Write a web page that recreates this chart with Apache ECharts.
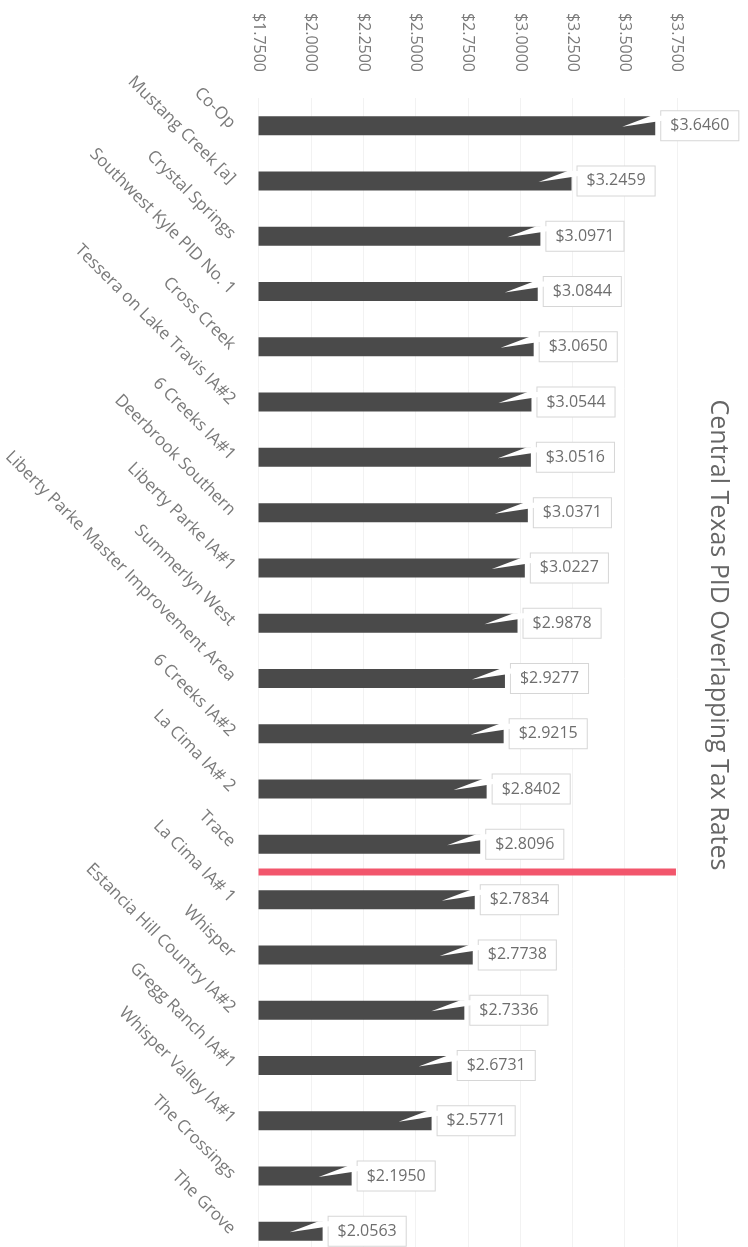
<!DOCTYPE html>
<html>
<head>
<meta charset="utf-8">
<script src="https://cdn.jsdelivr.net/npm/echarts@6/dist/echarts.min.js"></script>
<style>
html,body{margin:0;padding:0;background:#fff;width:748px;height:1247px;overflow:hidden;}
#chart{width:748px;height:1259px;}
</style>
</head>
<body>
<div id="chart"></div>
<script>
const categories = [
  "Co-Op", "Mustang Creek [a]", "Crystal Springs", "Southwest Kyle PID No. 1",
  "Cross Creek", "Tessera on Lake Travis IA#2", "6 Creeks IA#1", "Deerbrook Southern",
  "Liberty Parke IA#1", "Summerlyn West", "Liberty Parke Master Improvement Area",
  "6 Creeks IA#2", "La Cima IA# 2", "Trace", "La Cima IA# 1", "Whisper",
  "Estancia Hill Country IA#2", "Gregg Ranch IA#1", "Whisper Valley IA#1",
  "The Crossings", "The Grove"
];
const taxRates = [
  3.6460, 3.2459, 3.0971, 3.0844, 3.0650, 3.0544, 3.0516, 3.0371, 3.0227, 2.9878,
  2.9277, 2.9215, 2.8402, 2.8096, 2.7834, 2.7738, 2.7336, 2.6731, 2.5771, 2.1950, 2.0563
];
const axisMin = 1.75;
const axisMax = 3.75;
const axisStep = 0.25;
// reference (red) line drawn between "Trace" and "La Cima IA# 1"
const refLineRow = 14;
const refLineX = [1.75, 3.745];
const titleText = "Central Texas PID Overlapping Tax Rates";

const chart = echarts.init(document.getElementById('chart'), null, {renderer: 'canvas'});
const FONT = '"Open Sans", "Noto Sans", sans-serif';

const option = {
  animation: false,
  backgroundColor: '#ffffff',
  grid: {left: 256, top: 98, right: 71, bottom: 0, containLabel: false},
  xAxis: {
    type: 'value', position: 'top', min: axisMin, max: axisMax, interval: axisStep,
    axisLine: {show: false}, axisTick: {show: false},
    splitLine: {show: true, lineStyle: {color: '#f2f2f2', width: 1}},
    axisLabel: {
      rotate: -90, margin: 26, color: '#7a7a7a', fontSize: 16, fontFamily: FONT,
      formatter: v => '$' + v.toFixed(4)
    }
  },
  yAxis: [{
    type: 'category', data: categories, inverse: true,
    axisLine: {show: false}, axisTick: {show: false},
    axisLabel: {rotate: -45, margin: 26, color: '#7a7a7a', fontSize: 17, fontFamily: FONT, interval: 0}
  }, {
    type: 'value', min: 0, max: categories.length, inverse: true, show: false
  }],
  series: [{
    type: 'bar', data: taxRates, barWidth: 19, yAxisIndex: 0,
    itemStyle: {color: '#4a4a4a'},
    label: {
      show: true, position: 'right', distance: 6,
      formatter: p => '$' + p.value.toFixed(4),
      color: '#6e6e6e', fontSize: 16, fontFamily: FONT,
      backgroundColor: '#ffffff', borderColor: '#d6d6d6', borderWidth: 1,
      padding: [7, 9, 6, 9]
    },
    z: 2
  }, {
    type: 'custom', yAxisIndex: 0, z: 3,
    data: taxRates.map((v, i) => [v, i]),
    renderItem: (params, api) => {
      const p = api.coord([api.value(0), api.value(1)]);
      const x = p[0], y = p[1];
      return {
        type: 'polygon',
        shape: {points: [[x - 33, y + 1], [x - 4, y - 10], [x + 7, y - 10], [x + 7, y - 5]]},
        style: {fill: '#ffffff'}
      };
    }
  }, {
    type: 'line', yAxisIndex: 1, symbol: 'none', z: 4,
    data: refLineX.map(v => [v, refLineRow]),
    lineStyle: {color: '#f2566c', width: 7}
  }],
  graphic: [{
    type: 'text', x: 718, y: 635, rotation: -Math.PI / 2,
    style: {text: titleText, fill: '#666666', font: '25px ' + FONT, align: 'center', verticalAlign: 'middle'}
  }]
};
chart.setOption(option);
</script>
</body>
</html>
